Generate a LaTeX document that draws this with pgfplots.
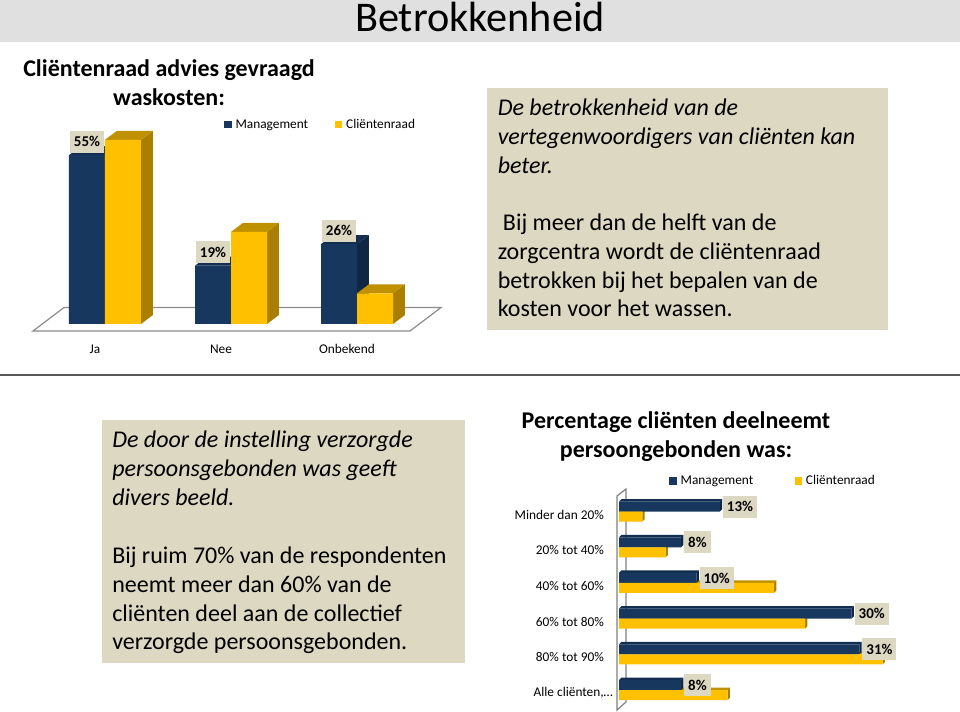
\documentclass[border=0pt]{standalone}
\usepackage{pgfplots}
\pgfplotsset{compat=1.18}
\usepackage{fontspec}
\setmainfont{Carlito}
\definecolor{navy}{HTML}{17375E}
\definecolor{navyS}{HTML}{102743}
\definecolor{navyT}{HTML}{132E50}
\definecolor{gold}{HTML}{FFC000}
\definecolor{goldS}{HTML}{AA7F00}
\definecolor{goldT}{HTML}{BF9000}
\definecolor{tan}{HTML}{DDD8C2}
\definecolor{hdr}{HTML}{E0E0E0}
\def\P#1#2{({#1*0.75pt},{-#2*0.75pt})}
\pgfplotsset{
  sq/.style={legend image code/.code={\fill[##1,draw=none] (0pt,-2.6pt) rectangle (5.5pt,2.9pt);}},
}
\begin{document}
\begin{tikzpicture}
\path[use as bounding box] \P{0}{0} rectangle \P{960}{712};
\fill[hdr] \P{0}{0} rectangle \P{960}{42};
\fill[tan] \P{487}{88} rectangle \P{888}{330};
\fill[tan] \P{102}{420} rectangle \P{465}{663};
\fill[black!65] \P{0}{374.5} rectangle \P{960}{376.3};
\node[anchor=base,font=\fontsize{31.7pt}{32pt}\selectfont,inner sep=0pt] at \P{480}{31.5} {Betrokkenheid};
% titles
\node[anchor=base,font=\fontsize{18pt}{20pt}\selectfont\bfseries,inner sep=0pt] at \P{169}{76.5} {Cliëntenraad advies gevraagd};
\node[anchor=base,font=\fontsize{18pt}{20pt}\selectfont\bfseries,inner sep=0pt] at \P{169}{105.5} {waskosten:};
\node[anchor=base,font=\fontsize{18pt}{20pt}\selectfont\bfseries,inner sep=0pt] at \P{676}{428.5} {Percentage cliënten deelneemt};
\node[anchor=base,font=\fontsize{18pt}{20pt}\selectfont\bfseries,inner sep=0pt] at \P{676}{458} {persoongebonden was:};
% body text
\begin{scope}[every node/.style={anchor=base west,inner sep=0pt,font=\fontsize{18pt}{20pt}\selectfont}]
\node[font=\fontsize{18pt}{20pt}\selectfont\itshape] at \P{497.5}{116} {De betrokkenheid van de};
\node[font=\fontsize{18pt}{20pt}\selectfont\itshape] at \P{497.5}{145} {vertegenwoordigers van cliënten kan};
\node[font=\fontsize{18pt}{20pt}\selectfont\itshape] at \P{497.5}{173.7} {beter.};
\node at \P{502.7}{230.7} {Bij meer dan de helft van de};
\node at \P{497.5}{259.3} {zorgcentra wordt de cliëntenraad};
\node at \P{497.5}{288.3} {betrokken bij het bepalen van de};
\node at \P{497.5}{316.7} {kosten voor het wassen.};
\node[font=\fontsize{18pt}{20pt}\selectfont\itshape] at \P{112}{448} {De door de instelling verzorgde};
\node[font=\fontsize{18pt}{20pt}\selectfont\itshape] at \P{112}{476.7} {persoonsgebonden was geeft};
\node[font=\fontsize{18pt}{20pt}\selectfont\itshape] at \P{112}{505} {divers beeld.};
\node at \P{112}{563.3} {Bij ruim 70\% van de respondenten};
\node at \P{112}{592.3} {neemt meer dan 60\% van de};
\node at \P{112}{621} {cliënten deel aan de collectief};
\node at \P{112}{649.3} {verzorgde persoonsgebonden.};
\end{scope}
% ------- chart 1
\begin{axis}[
  at={(24.75pt,-248.25pt)},anchor=south west,
  scale only axis,width=306pt,height=150.75pt,
  xmin=-0.5714,xmax=2.6667,ymin=-2.28,ymax=63.19,
  clip=false,axis line style={draw=none},
  major tick length=0pt,
  xtick={0,1,2},xticklabels={Ja,Nee,Onbekend},ytick=\empty,
  xticklabel style={font=\fontsize{10pt}{12pt}\selectfont,text height=8pt,text depth=2pt,xshift=-7.5pt,yshift=-5pt},
  /pgf/number format/assume math mode=true,
  sq,
  legend style={at={(0.468,1.025)},anchor=west,draw=none,fill=none,font=\fontsize{10pt}{12pt}\selectfont,
    legend columns=2,inner sep=0pt,nodes={inner sep=0pt,anchor=west},
    /tikz/column 1/.style={column sep=3pt},/tikz/column 2/.style={column sep=20pt},/tikz/column 3/.style={column sep=3pt}},
]
% floor
\addplot[fill=white,draw=black!45,line width=0.9pt,forget plot] coordinates {(-0.5714,-2.28)(2.4206,-2.28)(2.6667,5.37)(-0.3254,5.37)} -- cycle;
% Management side/top faces
\addplot[fill=navyS,draw=none,forget plot] coordinates {(0,0)(0.0952,2.93)(0.0952,57.93)(0,55)} -- cycle;
\addplot[fill=navyT,draw=none,forget plot] coordinates {(-0.2857,55)(-0.1905,57.93)(0.0952,57.93)(0,55)} -- cycle;
\addplot[fill=navyS,draw=none,forget plot] coordinates {(1,0)(1.0952,2.93)(1.0952,21.93)(1,19)} -- cycle;
\addplot[fill=navyT,draw=none,forget plot] coordinates {(0.7143,19)(0.8095,21.93)(1.0952,21.93)(1,19)} -- cycle;
\addplot[fill=navyS,draw=none,forget plot] coordinates {(2,0)(2.0952,2.93)(2.0952,28.93)(2,26)} -- cycle;
\addplot[fill=navyT,draw=none,forget plot] coordinates {(1.7143,26)(1.8095,28.93)(2.0952,28.93)(2,26)} -- cycle;
% Management fronts
\addplot[ybar,bar width=27pt,bar shift=-13.5pt,fill=navy,draw=none] coordinates {(0,55)(1,19)(2,26)};
\addlegendentry{Management}
% Clientenraad side/top
\addplot[fill=goldS,draw=none,forget plot] coordinates {(0.2857,0)(0.3809,2.93)(0.3809,62.93)(0.2857,60)} -- cycle;
\addplot[fill=goldT,draw=none,forget plot] coordinates {(0,60)(0.0952,62.93)(0.3809,62.93)(0.2857,60)} -- cycle;
\addplot[fill=goldS,draw=none,forget plot] coordinates {(1.2857,0)(1.3809,2.93)(1.3809,32.93)(1.2857,30)} -- cycle;
\addplot[fill=goldT,draw=none,forget plot] coordinates {(1,30)(1.0952,32.93)(1.3809,32.93)(1.2857,30)} -- cycle;
\addplot[fill=goldS,draw=none,forget plot] coordinates {(2.2857,0)(2.3809,2.93)(2.3809,12.93)(2.2857,10)} -- cycle;
\addplot[fill=goldT,draw=none,forget plot] coordinates {(2,10)(2.0952,12.93)(2.3809,12.93)(2.2857,10)} -- cycle;
\addplot[ybar,bar width=27pt,bar shift=13.5pt,fill=gold,draw=none] coordinates {(0,60)(1,30)(2,10)};
\addlegendentry{Cliëntenraad}
% labels
\addplot[draw=none,mark=none,forget plot,point meta=y,
  nodes near coords={\pgfmathprintnumber{\pgfplotspointmeta}\%},
  every node near coord/.style={anchor=south,yshift=1.6pt,fill=tan,inner xsep=3pt,inner ysep=0pt,minimum height=16.5pt,font=\fontsize{11.2pt}{12pt}\selectfont\bfseries,text=black}]
  coordinates {(-0.1429,55)(0.8571,19)(1.8571,26)};
\end{axis}
% ------- chart 2
\begin{axis}[
  at={(462.75pt,-532.5pt)},anchor=south west,
  scale only axis,width=212.25pt,height=165.75pt,
  xmin=-0.258,xmax=36.258,ymin=-0.633,ymax=5.558,y dir=reverse,
  clip=false,axis line style={draw=none},
  major tick length=0pt,
  ytick={0,1,2,3,4,5},xtick=\empty,
  yticklabels={Minder dan 20\%,20\% tot 40\%,40\% tot 60\%,60\% tot 80\%,80\% tot 90\%,{Alle cliënten,…\kern-6.75pt}},
  yticklabel style={font=\fontsize{10pt}{12pt}\selectfont,anchor=east,xshift=-6.3pt,yshift=-2.2pt},
  /pgf/number format/assume math mode=true,
  sq,
  legend style={at={(0.184,1.036)},anchor=west,draw=none,fill=none,font=\fontsize{10pt}{12pt}\selectfont,
    legend columns=2,inner sep=0pt,nodes={inner sep=0pt,anchor=west},
    /tikz/column 1/.style={column sep=3pt},/tikz/column 2/.style={column sep=31pt},/tikz/column 3/.style={column sep=3pt}},
]
% wall
\addplot[fill=white,draw=black!50,line width=0.9pt,forget plot] coordinates {(-0.258,-0.437)(0.903,-0.633)(0.903,5.334)(-0.258,5.558)} -- cycle;
% Clientenraad faces (behind Management)
\addplot[fill=goldT,draw=none,forget plot] coordinates {(0,0)(0.32,-0.07)(3.32,-0.07)(3,0)} -- cycle;
\addplot[fill=goldS,draw=none,forget plot] coordinates {(3,0)(3.32,-0.07)(3.32,0.21)(3,0.28)} -- cycle;
\addplot[fill=goldT,draw=none,forget plot] coordinates {(0,1)(0.32,0.93)(6.32,0.93)(6,1)} -- cycle;
\addplot[fill=goldS,draw=none,forget plot] coordinates {(6,1)(6.32,0.93)(6.32,1.21)(6,1.28)} -- cycle;
\addplot[fill=goldT,draw=none,forget plot] coordinates {(0,2)(0.32,1.93)(20.32,1.93)(20,2)} -- cycle;
\addplot[fill=goldS,draw=none,forget plot] coordinates {(20,2)(20.32,1.93)(20.32,2.21)(20,2.28)} -- cycle;
\addplot[fill=goldT,draw=none,forget plot] coordinates {(0,3)(0.32,2.93)(24.32,2.93)(24,3)} -- cycle;
\addplot[fill=goldS,draw=none,forget plot] coordinates {(24,3)(24.32,2.93)(24.32,3.21)(24,3.28)} -- cycle;
\addplot[fill=goldT,draw=none,forget plot] coordinates {(0,4)(0.32,3.93)(34.32,3.93)(34,4)} -- cycle;
\addplot[fill=goldS,draw=none,forget plot] coordinates {(34,4)(34.32,3.93)(34.32,4.21)(34,4.28)} -- cycle;
\addplot[fill=goldT,draw=none,forget plot] coordinates {(0,5)(0.32,4.93)(14.32,4.93)(14,5)} -- cycle;
\addplot[fill=goldS,draw=none,forget plot] coordinates {(14,5)(14.32,4.93)(14.32,5.21)(14,5.28)} -- cycle;
% Management faces
\addplot[fill=navyT,draw=none,forget plot] coordinates {(0,-0.28)(0.32,-0.35)(13.32,-0.35)(13,-0.28)} -- cycle;
\addplot[fill=navyS,draw=none,forget plot] coordinates {(13,-0.28)(13.32,-0.35)(13.32,-0.07)(13,0)} -- cycle;
\addplot[fill=navyT,draw=none,forget plot] coordinates {(0,0.72)(0.32,0.65)(8.32,0.65)(8,0.72)} -- cycle;
\addplot[fill=navyS,draw=none,forget plot] coordinates {(8,0.72)(8.32,0.65)(8.32,0.93)(8,1)} -- cycle;
\addplot[fill=navyT,draw=none,forget plot] coordinates {(0,1.72)(0.32,1.65)(10.32,1.65)(10,1.72)} -- cycle;
\addplot[fill=navyS,draw=none,forget plot] coordinates {(10,1.72)(10.32,1.65)(10.32,1.93)(10,2)} -- cycle;
\addplot[fill=navyT,draw=none,forget plot] coordinates {(0,2.72)(0.32,2.65)(30.32,2.65)(30,2.72)} -- cycle;
\addplot[fill=navyS,draw=none,forget plot] coordinates {(30,2.72)(30.32,2.65)(30.32,2.93)(30,3)} -- cycle;
\addplot[fill=navyT,draw=none,forget plot] coordinates {(0,3.72)(0.32,3.65)(31.32,3.65)(31,3.72)} -- cycle;
\addplot[fill=navyS,draw=none,forget plot] coordinates {(31,3.72)(31.32,3.65)(31.32,3.93)(31,4)} -- cycle;
\addplot[fill=navyT,draw=none,forget plot] coordinates {(0,4.72)(0.32,4.65)(8.32,4.65)(8,4.72)} -- cycle;
\addplot[fill=navyS,draw=none,forget plot] coordinates {(8,4.72)(8.32,4.65)(8.32,4.93)(8,5)} -- cycle;
% fronts: with the reversed y axis a positive bar shift moves a bar upward
\addplot[xbar,bar width=7.5pt,bar shift=3.75pt,fill=navy,draw=none] coordinates {(13,0)(8,1)(10,2)(30,3)(31,4)(8,5)};
\addlegendentry{Management}
\addplot[xbar,bar width=7.5pt,bar shift=-3.75pt,fill=gold,draw=none] coordinates {(3,0)(6,1)(20,2)(24,3)(34,4)(14,5)};
\addlegendentry{Cliëntenraad}
% labels
\addplot[draw=none,mark=none,forget plot,point meta=x,
  nodes near coords={\pgfmathprintnumber{\pgfplotspointmeta}\%},
  every node near coord/.style={anchor=west,xshift=2.2pt,fill=tan,inner xsep=3pt,inner ysep=0pt,minimum height=16.5pt,font=\fontsize{11.2pt}{12pt}\selectfont\bfseries,text=black}]
  coordinates {(13,-0.14)(8,0.86)(10,1.86)(30,2.86)(31,3.86)(8,4.86)};
\end{axis}
\end{tikzpicture}
\end{document}
